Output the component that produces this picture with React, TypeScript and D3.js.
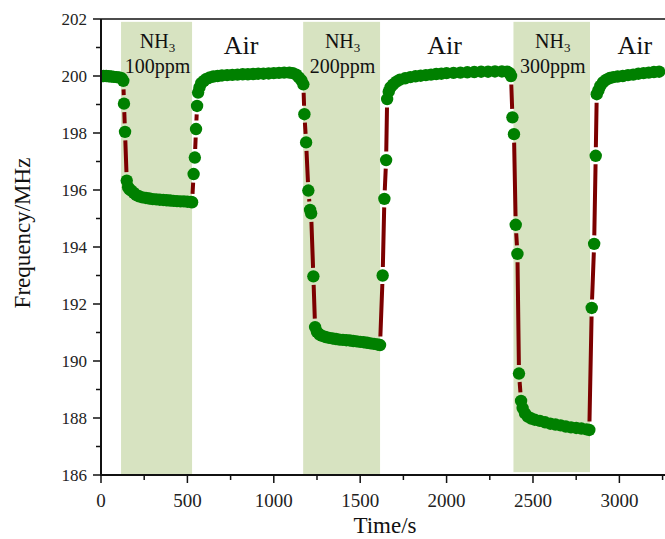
import React from 'react';
import * as d3 from 'd3';

// [time (s), frequency (MHz)]
const airBaseline1: [number, number][] = [
  [0, 200.0], [15, 200.0], [30, 200.0], [45, 199.99], [60, 199.98], [75, 199.97],
  [90, 199.96], [105, 199.95], [120, 199.92], [129, 199.83],
];
const nh3Exposure1: [number, number][] = [
  [133, 199.03], [139, 198.04], [149, 196.33], [157, 196.1], [165, 196.02], [175, 195.98],
  [190, 195.9], [205, 195.82], [220, 195.78], [240, 195.74], [260, 195.72], [280, 195.7],
  [300, 195.68], [320, 195.67], [340, 195.66], [360, 195.65], [380, 195.64], [400, 195.63],
  [420, 195.62], [440, 195.61], [460, 195.6], [480, 195.6], [500, 195.59], [520, 195.58],
  [527, 195.57],
];
const airRecovery1: [number, number][] = [
  [536, 196.56], [543, 197.14], [550, 198.14], [556, 198.95], [562, 199.42], [570, 199.6],
  [580, 199.75], [595, 199.83], [610, 199.9], [630, 199.95], [650, 199.98], [675, 200.0],
  [700, 200.02], [730, 200.03], [760, 200.04], [790, 200.05], [820, 200.06], [850, 200.06],
  [880, 200.07], [910, 200.08], [940, 200.08], [970, 200.09], [1000, 200.1], [1030, 200.11],
  [1060, 200.12], [1090, 200.12], [1110, 200.1], [1130, 200.05], [1145, 199.95], [1160, 199.85],
  [1171, 199.71],
];
const nh3Exposure2: [number, number][] = [
  [1177, 198.66], [1187, 197.67], [1200, 195.98], [1210, 195.3], [1216, 195.18], [1229, 192.97],
  [1239, 191.19], [1250, 191.02], [1265, 190.93], [1280, 190.88], [1300, 190.84], [1320, 190.81],
  [1340, 190.79], [1360, 190.77], [1380, 190.75], [1400, 190.74], [1420, 190.73], [1440, 190.72],
  [1460, 190.7], [1480, 190.69], [1500, 190.67], [1520, 190.66], [1540, 190.64], [1560, 190.62],
  [1580, 190.6], [1600, 190.58], [1615, 190.56],
];
const airRecovery2: [number, number][] = [
  [1630, 193.0], [1640, 195.69], [1650, 197.05], [1656, 199.19], [1665, 199.45], [1675, 199.6],
  [1690, 199.7], [1710, 199.8], [1730, 199.87], [1760, 199.92], [1790, 199.96], [1820, 199.99],
  [1850, 200.01], [1880, 200.03], [1910, 200.05], [1940, 200.07], [1970, 200.08], [2000, 200.1],
  [2040, 200.11], [2080, 200.12], [2120, 200.13], [2160, 200.14], [2200, 200.15], [2240, 200.15],
  [2280, 200.16], [2320, 200.16], [2350, 200.15], [2365, 200.1], [2373, 200.0],
];
const nh3Exposure3: [number, number][] = [
  [2381, 198.55], [2390, 197.96], [2400, 194.78], [2410, 193.76], [2419, 189.56], [2431, 188.6],
  [2440, 188.35], [2454, 188.16], [2470, 188.05], [2490, 187.98], [2510, 187.94], [2540, 187.9],
  [2570, 187.85], [2600, 187.8], [2630, 187.77], [2660, 187.74], [2690, 187.7], [2720, 187.67],
  [2750, 187.65], [2780, 187.63], [2810, 187.6], [2826, 187.58],
];
const airRecovery3: [number, number][] = [
  [2840, 191.86], [2854, 194.11], [2863, 197.2], [2869, 199.36], [2879, 199.5], [2890, 199.65],
  [2905, 199.78], [2925, 199.87], [2945, 199.93], [2965, 199.96], [2990, 199.98], [3020, 200.0],
  [3050, 200.03], [3080, 200.05], [3110, 200.08], [3140, 200.1], [3170, 200.12], [3200, 200.14],
  [3230, 200.15],
];

// NH3 exposure windows: [start, end, low, high]
const exposureWindows: [number, number, number, number][] = [
  [116, 527, 186, 201.9],
  [1170, 1615, 186, 201.9],
  [2387, 2830, 186.1, 201.9],
];
const concentrations = ['100ppm', '200ppm', '300ppm'];
const airLabelTimes = [810, 1989, 3089];

const xTicks = [0, 500, 1000, 1500, 2000, 2500, 3000];
const xMinorTicks = [250, 750, 1250, 1750, 2250, 2750, 3250];
const yTicks = [186, 188, 190, 192, 194, 196, 198, 200, 202];
const yMinorTicks = [187, 189, 191, 193, 195, 197, 199, 201];

const width = 665;
const height = 539;
const margin = { top: 19, right: 0, bottom: 64, left: 101 };
const font = '"Liberation Serif", "Times New Roman", serif';

export default function App() {
  const data = [
    ...airBaseline1, ...nh3Exposure1, ...airRecovery1,
    ...nh3Exposure2, ...airRecovery2, ...nh3Exposure3, ...airRecovery3,
  ];

  const x = d3.scaleLinear().domain([0, 3264]).range([margin.left, width - margin.right]);
  const y = d3.scaleLinear().domain([186, 202]).range([height - margin.bottom, margin.top]);
  const x0 = margin.left;
  const y0 = height - margin.bottom;

  // line segments broken around the markers
  const gap = 8.5;
  const pts = data.map(d => [x(d[0]), y(d[1])]);
  const segments: string[] = [];
  for (let i = 1; i < pts.length; i++) {
    const [ax, ay] = pts[i - 1];
    const [bx, by] = pts[i];
    const dist = Math.hypot(bx - ax, by - ay);
    if (dist <= 2 * gap + 1) continue;
    const ux = (bx - ax) / dist;
    const uy = (by - ay) / dist;
    segments.push(`M${ax + ux * gap},${ay + uy * gap}L${bx - ux * gap},${by - uy * gap}`);
  }

  return (
    <svg width={width} height={height} style={{ position: 'absolute', left: 0, top: 0 }}
      fontFamily={font}>
      <defs>
        <clipPath id="plot-clip">
          <rect x={x0} y={margin.top} width={width - x0} height={y0 - margin.top} />
        </clipPath>
      </defs>

      {exposureWindows.map(([s, e, lo, hi], i) => (
        <rect key={i} x={x(s)} y={y(hi)} width={x(e) - x(s)} height={y(lo) - y(hi)} fill="#d7e3c1" />
      ))}

      <g clipPath="url(#plot-clip)">
        <path d={segments.join('')} stroke="#7c0000" strokeWidth={4} fill="none" />
        {pts.map((p, i) => (
          <circle key={i} cx={p[0]} cy={p[1]} r={6.2} fill="#008000" />
        ))}
      </g>

      {/* axes */}
      <line x1={x0} x2={width} y1={margin.top} y2={margin.top} stroke="#111" strokeWidth={1.5} />
      <line x1={x0} x2={x0} y1={margin.top} y2={y0 + 1} stroke="#111" strokeWidth={2} />
      <line x1={x0 - 1} x2={width} y1={y0} y2={y0} stroke="#111" strokeWidth={2} />

      {yTicks.map(t => (
        <g key={t}>
          <line x1={x0 - 8} x2={x0} y1={y(t)} y2={y(t)} stroke="#111" strokeWidth={1.5} />
          <text x={x0 - 14} y={y(t)} dy="0.34em" textAnchor="end" fontSize={17} fill="#222">{t}</text>
        </g>
      ))}
      {yMinorTicks.map(t => (
        <line key={t} x1={x0 - 5} x2={x0} y1={y(t)} y2={y(t)} stroke="#111" strokeWidth={1.5} />
      ))}
      {xTicks.map(t => (
        <g key={t}>
          <line x1={x(t)} x2={x(t)} y1={y0} y2={y0 + 8} stroke="#111" strokeWidth={1.5} />
          <text x={x(t)} y={y0 + 32} textAnchor="middle" fontSize={19} fill="#222">{t}</text>
        </g>
      ))}
      {xMinorTicks.map(t => (
        <line key={t} x1={x(t)} x2={x(t)} y1={y0} y2={y0 + 5} stroke="#111" strokeWidth={1.5} />
      ))}

      <text x={(x0 + width) / 2 + 2} y={533} textAnchor="middle" fontSize={23} fill="#111">Time/s</text>
      <text transform="translate(30,233) rotate(-90)" textAnchor="middle" fontSize={23} fill="#111">
        Frequency/MHz
      </text>

      {/* annotations */}
      {exposureWindows.map(([s, e], i) => {
        const cx = (x(s) + x(e)) / 2 + 1;
        return (
          <g key={i} fill="#111" fontSize={20} textAnchor="middle">
            <text x={cx} y={48}>NH<tspan fontSize={13} dy={4}>3</tspan></text>
            <text x={cx} y={73}>{concentrations[i]}</text>
          </g>
        );
      })}
      {airLabelTimes.map((t, i) => (
        <text key={i} x={x(t)} y={54} textAnchor="middle" fontSize={26} fill="#111">Air</text>
      ))}
    </svg>
  );
}
